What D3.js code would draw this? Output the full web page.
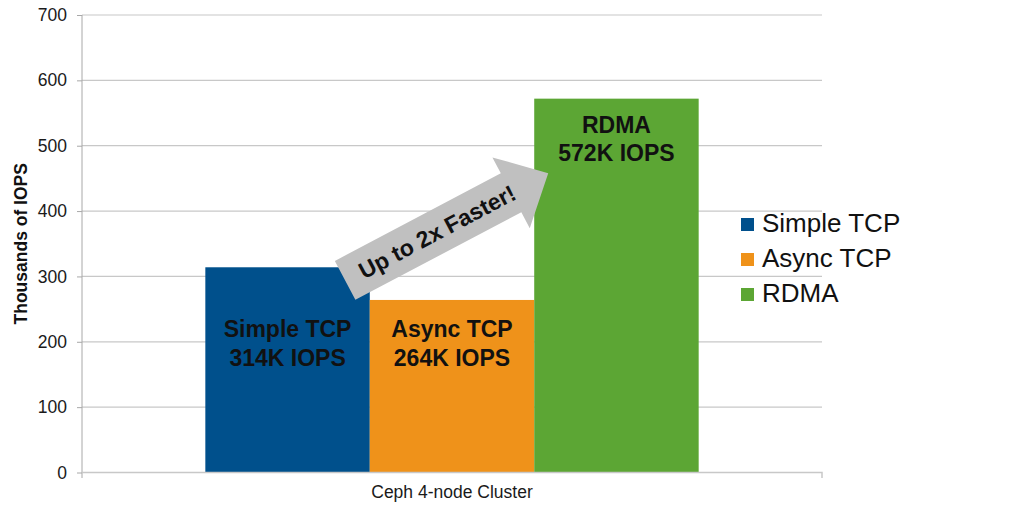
<!DOCTYPE html>
<html><head><meta charset="utf-8">
<script src="https://cdn.jsdelivr.net/npm/d3@7"></script>
<style>body{margin:0;background:#fff}svg{display:block;font-family:"Liberation Sans",Arial,sans-serif}</style>
</head><body>
<svg id="c" width="1024" height="511"></svg>
<script>
const category = "Ceph 4-node Cluster";
const series = ["Simple TCP", "Async TCP", "RDMA"];
const values = [314, 264, 572];
const valueLabels = ["314K IOPS", "264K IOPS", "572K IOPS"];
const colors = ["#00508C", "#EF921A", "#5CA634"];
const yTicks = [0, 100, 200, 300, 400, 500, 600, 700];
const yTitle = "Thousands of IOPS";
const arrowText = "Up to 2x Faster!";

const svg = d3.select("#c");
const L = 82, R = 822, T = 15, B = 472.5;
const y = d3.scaleLinear().domain([0, 700]).range([B, T]);
const xc = d3.scaleBand().domain([category]).range([L, R]).paddingInner(0).paddingOuter(0.25);
const xs = d3.scaleBand().domain(series).range([0, xc.bandwidth()]).padding(0);

// grid
svg.append("g").selectAll("line").data(yTicks.filter(d => d > 0)).join("line")
  .attr("x1", L).attr("x2", R).attr("y1", d => y(d)).attr("y2", d => y(d))
  .attr("stroke", "#c8c8c8").attr("stroke-width", 1.2);

// y axis
const ya = svg.append("g").attr("transform", `translate(${L},0)`)
  .call(d3.axisLeft(y).tickValues(yTicks).tickSize(5).tickPadding(10));
ya.select(".domain").attr("d", `M0,${T}V${B + 5.5}`).attr("stroke", "#a8a8a8");
ya.selectAll(".tick line").attr("stroke", "#a8a8a8");
ya.selectAll(".tick text").attr("font-size", 17.5).attr("fill", "#1a1a1a")
  .attr("font-family", "Liberation Sans, Arial, sans-serif");

// bars
const g = svg.append("g").attr("transform", `translate(${xc(category)},0)`);
g.selectAll("rect").data(values).join("rect")
  .attr("x", (d, i) => xs(series[i])).attr("width", xs.bandwidth())
  .attr("y", d => y(d)).attr("height", d => y(0) - y(d))
  .attr("fill", (d, i) => colors[i]);

// x baseline
svg.append("path").attr("d", `M${L},${B}H${R}V${B + 5.5}`).attr("fill", "none")
  .attr("stroke", "#c8c8c8").attr("stroke-width", 1.5);
svg.append("text").attr("x", xc(category) + xc.bandwidth() / 2).attr("y", 498)
  .attr("text-anchor", "middle").attr("font-size", 17.5).attr("fill", "#1a1a1a").text(category);

// y title
svg.append("text").attr("transform", `translate(27,${(T + B) / 2 + 0}) rotate(-90)`)
  .attr("text-anchor", "middle").attr("font-size", 17.5).attr("font-weight", "bold")
  .attr("fill", "#111").text(yTitle);

// bar labels
const labelY = (d, i) => i === 2 ? y(d) + 34 : y(207);
const lab = g.selectAll("g.lab").data(values).join("g").attr("class", "lab")
  .attr("transform", (d, i) => `translate(${xs(series[i]) + xs.bandwidth() / 2},${labelY(d, i)})`);
lab.append("text").attr("text-anchor", "middle").attr("font-size", 23).attr("font-weight", "bold")
  .attr("fill", "#111").text((d, i) => series[i]);
lab.append("text").attr("text-anchor", "middle").attr("font-size", 23).attr("font-weight", "bold")
  .attr("fill", "#111").attr("y", 28.5).text((d, i) => valueLabels[i]);

// arrow annotation
const ax0 = xc(category) + xs(series[0]) + xs.bandwidth() * 0.85, ay0 = y(294);
const ax1 = xc(category) + xs(series[2]) + 14, ay1 = y(458);
const len = Math.hypot(ax1 - ax0, ay1 - ay0);
const ang = Math.atan2(ay1 - ay0, ax1 - ax0) * 180 / Math.PI;
const hw = 22, hh = 40, hl = 42;
const ag = svg.append("g").attr("transform", `translate(${ax0},${ay0}) rotate(${ang})`);
ag.append("path").attr("d",
  `M0,${-hw}L${len - hl},${-hw}L${len - hl},${-hh}L${len},0L${len - hl},${hh}L${len - hl},${hw}L0,${hw}Z`)
  .attr("fill", "#C0C0C0");
ag.append("text").attr("x", 104).attr("y", 8).attr("text-anchor", "middle")
  .attr("font-size", 23).attr("font-weight", "bold").attr("fill", "#111").text(arrowText);

// legend
const lg = svg.append("g").selectAll("g").data(series).join("g")
  .attr("transform", (d, i) => `translate(741,${232 + i * 35})`);
lg.append("rect").attr("x", 0).attr("y", -14).attr("width", 13).attr("height", 13)
  .attr("fill", (d, i) => colors[i]);
lg.append("text").attr("x", 21).attr("y", 0).attr("font-size", 26).attr("fill", "#111").text(d => d);
</script>
</body></html>
